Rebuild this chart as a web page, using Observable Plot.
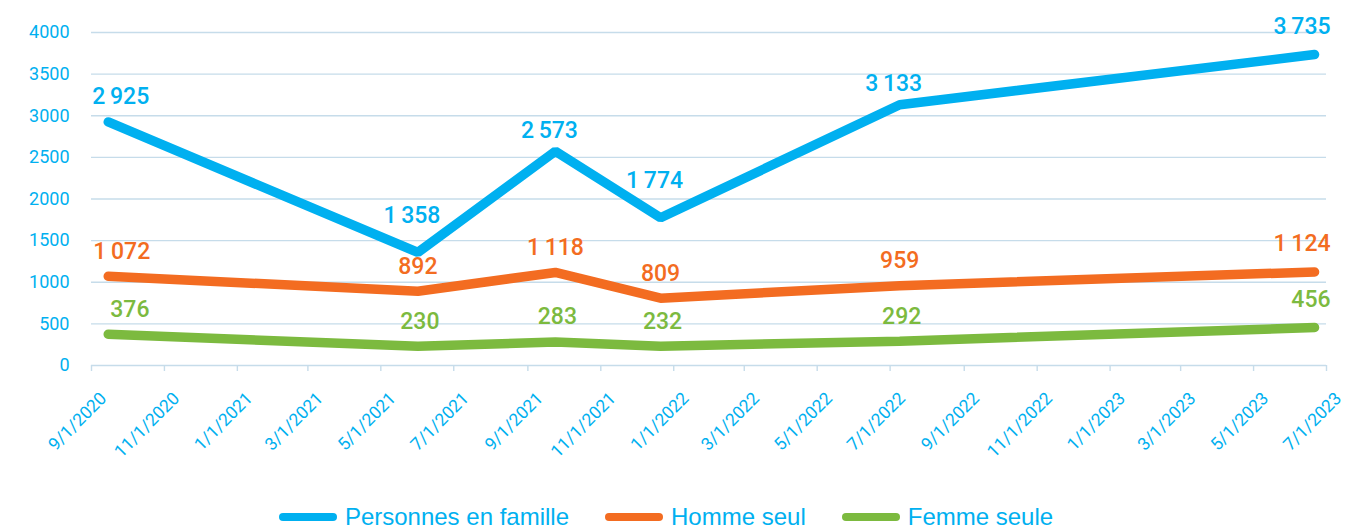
<!DOCTYPE html>
<html><head><meta charset="utf-8">
<script src="https://cdn.jsdelivr.net/npm/d3@7"></script>
<script src="https://cdn.jsdelivr.net/npm/@observablehq/plot@0.6"></script>
<style>
html,body{margin:0;padding:0;background:#fff;}
#wrap{position:relative;width:1345px;height:530px;overflow:hidden;background:#fff;}
#legend{position:absolute;left:0;top:505px;width:1345px;height:24px;display:flex;justify-content:center;align-items:center;font-family:"Liberation Sans",Arial,sans-serif;font-size:24px;line-height:24px;color:#00b0f0;box-sizing:border-box;padding-right:13px;}
.item{display:flex;align-items:center;margin:0 18px;white-space:nowrap;}
.sw{width:58px;height:8px;border-radius:4px;margin-right:8px;}
</style></head><body><div id="wrap"><div id="chart"></div><div id="legend"></div></div>
<script>
// ---- data ----
const dates = ["2020-09-15", "2021-06-01", "2021-09-24", "2021-12-21", "2022-07-09", "2023-06-21"];
const famille = [2925, 1358, 2573, 1774, 3133, 3735];
const homme = [1072, 892, 1118, 809, 959, 1124];
const femme = [376, 230, 283, 232, 292, 456];
const seriesNames = ["Personnes en famille", "Homme seul", "Femme seule"];
const xTickLabels = ["9/1/2020", "11/1/2020", "1/1/2021", "3/1/2021", "5/1/2021", "7/1/2021", "9/1/2021", "11/1/2021", "1/1/2022", "3/1/2022", "5/1/2022", "7/1/2022", "9/1/2022", "11/1/2022", "1/1/2023", "3/1/2023", "5/1/2023", "7/1/2023"];
const yTicks = [0, 500, 1000, 1500, 2000, 2500, 3000, 3500, 4000];

// ---- styles ----
const seriesColors = ["#00b0f0", "#f36c21", "#7cba3f"];
const axisBlue = "#00b0f0";
const gridColor = "#c6dcea";

const parseDate = d3.utcParse("%Y-%m-%d");
const parseTick = d3.utcParse("%m/%d/%Y");
const tickDates = xTickLabels.map(parseTick);
const seriesValues = [famille, homme, femme];
const rows = seriesValues.flatMap((vals, s) => vals.map((v, i) => ({date: parseDate(dates[i]), value: v, series: seriesNames[s], s, i})));
const fr = d3.formatLocale({decimal: ",", thousands: "\u2009", grouping: [3], currency: ["", ""]});
const fmt = fr.format(",d");

const firstDx = [-16, -15, 2];
const midDx = [-6, 0, 2];

function labelMarks(s) {
  const data = rows.filter(r => r.s === s);
  const vals = seriesValues[s];
  const n = data.length;
  const common = {x: "date", y: "value", text: d => fmt(d.value), fill: seriesColors[s], fontSize: 23, fontWeight: 500};
  const isMin = d => d.i > 0 && d.i < n - 1 && vals[d.i] < vals[d.i - 1] && vals[d.i] < vals[d.i + 1];
  const mid = data.filter(d => d.i > 0 && d.i < n - 1);
  const marks = [
    Plot.text(data.filter(d => d.i === 0), {...common, textAnchor: "start", dx: firstDx[s], dy: -25}),
    Plot.text(data.filter(d => d.i === n - 1), {...common, textAnchor: "end", dx: 16, dy: -28})
  ];
  if (s === 0) {
    marks.push(Plot.text(mid.filter(isMin), {...common, dx: midDx[s], dy: -37}));
    marks.push(Plot.text(mid.filter(d => !isMin(d)), {...common, dx: midDx[s], dy: -21}));
  } else {
    marks.push(Plot.text(mid, {...common, dx: midDx[s], dy: -25}));
  }
  return marks;
}

const chart = Plot.plot({
  width: 1345,
  height: 495,
  marginLeft: 91,
  marginRight: 19,
  marginTop: 32,
  marginBottom: 130,
  x: {type: "utc", domain: [tickDates[0], tickDates[tickDates.length - 1]]},
  y: {domain: [0, 4000]},
  style: {fontFamily: "Roboto, 'Noto Sans', sans-serif", background: "white", overflow: "visible"},
  marks: [
    Plot.ruleY(yTicks, {stroke: gridColor, strokeWidth: 1.4}),
    Plot.axisX(tickDates, {tickSize: 6, tickFormat: () => "", stroke: gridColor, strokeWidth: 1.4, label: null}),
    Plot.axisY(yTicks, {tickSize: 0, tickPadding: 22, fontSize: 18, color: axisBlue, fill: axisBlue, tickFormat: d => String(d), label: null}),
    Plot.text(tickDates, {x: d => d, frameAnchor: "bottom", text: (d, i) => xTickLabels[i], rotate: -45, textAnchor: "end", lineAnchor: "bottom", dx: 16, dy: 34, fontSize: 17.5, fill: axisBlue}),
    ...seriesValues.map((vals, s) => Plot.line(rows.filter(r => r.s === s), {x: "date", y: "value", stroke: seriesColors[s], strokeWidth: 9.5, strokeLinecap: "round", strokeLinejoin: "miter"})),
    ...seriesValues.flatMap((vals, s) => labelMarks(s))
  ]
});
document.getElementById("chart").appendChild(chart);

const legend = document.getElementById("legend");
seriesNames.forEach((name, s) => {
  const item = document.createElement("div");
  item.className = "item";
  const sw = document.createElement("div");
  sw.className = "sw";
  sw.style.background = seriesColors[s];
  const label = document.createElement("span");
  label.textContent = name;
  item.appendChild(sw);
  item.appendChild(label);
  legend.appendChild(item);
});
</script>
</body></html>
